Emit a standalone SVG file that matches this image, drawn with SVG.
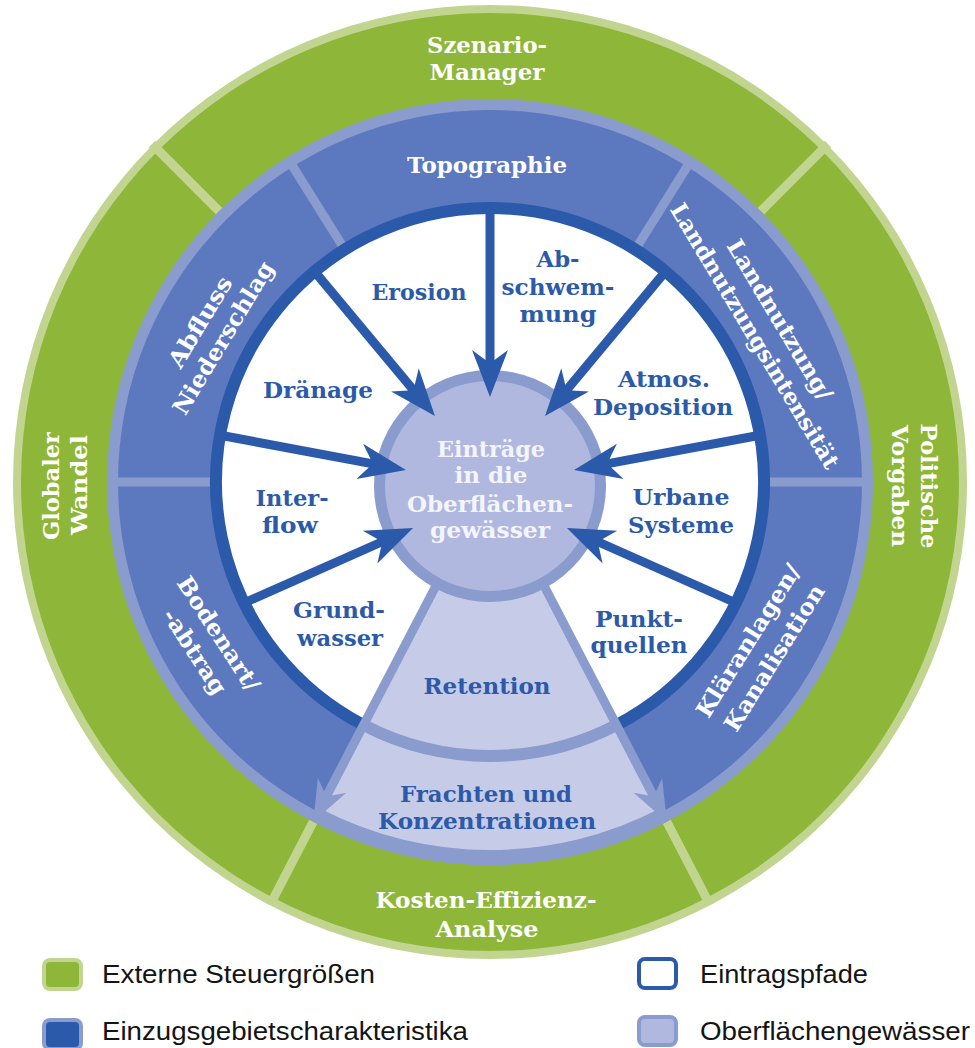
<svg xmlns="http://www.w3.org/2000/svg" width="975" height="1048" viewBox="0 0 975 1048">
<style>
.lb{font-family:"DejaVu Serif","Liberation Serif",serif;font-weight:bold;font-size:23px;text-anchor:middle}
.w{fill:#ffffff}
.d{fill:#2c5aaa}
.c{fill:#f4f5fb}
.lg{font-family:"Liberation Sans",Arial,sans-serif;font-size:26px;fill:#141414}
.gsep{stroke:#c2d590;stroke-width:9}
.bsep{stroke:#8a9bcd;stroke-width:9}
.dark{stroke:#2c5aaa;stroke-width:9;fill:none}
.light{stroke:#8a9bcd;stroke-width:9;fill:none}
</style>
<defs>
<marker id="ahd" markerUnits="userSpaceOnUse" orient="auto" refX="0" refY="0" markerWidth="1" markerHeight="1" overflow="visible">
<path d="M32,0 L-15,-18 L-5,-4.5 L-5,4.5 L-15,18 Z" fill="#2c5aaa"/>
</marker>
<marker id="ahl" markerUnits="userSpaceOnUse" orient="auto" refX="0" refY="0" markerWidth="1" markerHeight="1" overflow="visible">
<path d="M28,0 L-13,-16 L-4,-4.5 L-4,4.5 L-13,16 Z" fill="#8a9bcd"/>
</marker>
</defs>
<rect width="975" height="1048" fill="#ffffff"/>

<g id="outer-ring">
<circle cx="490" cy="482" r="477" fill="#c2d590"/>
<circle cx="490" cy="482" r="469" fill="#8eb739"/>
<line class="gsep" x1="219.2" y1="211.2" x2="152" y2="144"/>
<line class="gsep" x1="760.8" y1="211.2" x2="828" y2="144"/>
<line class="gsep" x1="666.8" y1="821.7" x2="710" y2="905"/>
<line class="gsep" x1="313.2" y1="821.7" x2="270" y2="905"/>
</g>

<g id="blue-ring">
<circle cx="490" cy="482" r="383" fill="#8a9bcd"/>
<circle cx="490" cy="482" r="372" fill="#5c78bf"/>
<line class="bsep" x1="342.7" y1="246.3" x2="289.7" y2="161.5"/>
<line class="bsep" x1="637.3" y1="246.3" x2="690.3" y2="161.5"/>
<line class="bsep" x1="768" y1="482" x2="870" y2="482"/>
<line class="bsep" x1="212" y1="482" x2="110" y2="482"/>
</g>

<g id="oberflaechengewaesser-sector">
<path d="M490,482 L666.8,821.7 A383,383 0 0,1 313.2,821.7 Z" fill="#8a9bcd"/>
<path d="M490,482 L659.9,808.4 A368,368 0 0,1 320.1,808.4 Z" fill="#c6cbe8"/>
<path d="M616.5,725 A274,274 0 0,1 363.5,725" stroke="#8a9bcd" stroke-width="12" fill="none"/>
</g>

<g id="eintragspfade-area">
<path d="M490,482 L363.5,725 A274,274 0 1,1 616.5,725 Z" fill="#ffffff"/>
<path d="M363.5,725 A274,274 0 1,1 616.5,725" stroke="#2c5aaa" stroke-width="12" fill="none"/>
</g>

<g id="szenario-manager">
<text class="lb w" x="487" y="53" textLength="120" lengthAdjust="spacingAndGlyphs">Szenario-</text>
<text class="lb w" x="487" y="80" textLength="115" lengthAdjust="spacingAndGlyphs">Manager</text>
</g>
<g id="politische-vorgaben">
<text class="lb w" transform="translate(921,486) rotate(90)" textLength="125" lengthAdjust="spacingAndGlyphs">Politische</text>
<text class="lb w" transform="translate(892,486) rotate(90)" textLength="122" lengthAdjust="spacingAndGlyphs">Vorgaben</text>
</g>
<g id="kosten-effizienz-analyse">
<text class="lb w" x="486" y="908" textLength="221" lengthAdjust="spacingAndGlyphs">Kosten-Effizienz-</text>
<text class="lb w" x="487" y="937" textLength="103" lengthAdjust="spacingAndGlyphs">Analyse</text>
</g>
<g id="globaler-wandel">
<text class="lb w" transform="translate(59,486) rotate(-90)" textLength="108" lengthAdjust="spacingAndGlyphs">Globaler</text>
<text class="lb w" transform="translate(87,485) rotate(-90)" textLength="100" lengthAdjust="spacingAndGlyphs">Wandel</text>
</g>

<g id="topographie">
<text class="lb w" x="487" y="173" textLength="160" lengthAdjust="spacingAndGlyphs">Topographie</text>
</g>
<g id="landnutzung">
<text class="lb w" transform="translate(773,324) rotate(59)" textLength="183" lengthAdjust="spacingAndGlyphs">Landnutzung/</text>
<text class="lb w" transform="translate(748,340) rotate(59)" textLength="305" lengthAdjust="spacingAndGlyphs">Landnutzungsintensität</text>
</g>
<g id="klaeranlagen-kanalisation">
<text class="lb w" transform="translate(755,645) rotate(-58)" textLength="176" lengthAdjust="spacingAndGlyphs">Kläranlagen/</text>
<text class="lb w" transform="translate(781,662) rotate(-58)" textLength="168" lengthAdjust="spacingAndGlyphs">Kanalisation</text>
</g>
<g id="bodenart-abtrag">
<text class="lb w" transform="translate(212,638) rotate(57)" textLength="132" lengthAdjust="spacingAndGlyphs">Bodenart/</text>
<text class="lb w" transform="translate(188,656) rotate(57)" textLength="97" lengthAdjust="spacingAndGlyphs">-abtrag</text>
</g>
<g id="abfluss-niederschlag">
<text class="lb w" transform="translate(207,326) rotate(-59)" textLength="102" lengthAdjust="spacingAndGlyphs">Abfluss</text>
<text class="lb w" transform="translate(230,342) rotate(-59)" textLength="174" lengthAdjust="spacingAndGlyphs">Niederschlag</text>
</g>

<g id="erosion"><text class="lb d" x="419" y="300" textLength="95" lengthAdjust="spacingAndGlyphs">Erosion</text></g>
<g id="abschwemmung">
<text class="lb d" x="558" y="267" textLength="43" lengthAdjust="spacingAndGlyphs">Ab-</text>
<text class="lb d" x="558" y="295" textLength="113" lengthAdjust="spacingAndGlyphs">schwem-</text>
<text class="lb d" x="558" y="322" textLength="77" lengthAdjust="spacingAndGlyphs">mung</text>
</g>
<g id="atmos-deposition">
<text class="lb d" x="664" y="387" textLength="92" lengthAdjust="spacingAndGlyphs">Atmos.</text>
<text class="lb d" x="663" y="415" textLength="140" lengthAdjust="spacingAndGlyphs">Deposition</text>
</g>
<g id="draenage"><text class="lb d" x="318" y="398" textLength="110" lengthAdjust="spacingAndGlyphs">Dränage</text></g>
<g id="interflow">
<text class="lb d" x="292" y="506" textLength="73" lengthAdjust="spacingAndGlyphs">Inter-</text>
<text class="lb d" x="290" y="533" textLength="56" lengthAdjust="spacingAndGlyphs">flow</text>
</g>
<g id="grundwasser">
<text class="lb d" x="339" y="618" textLength="92" lengthAdjust="spacingAndGlyphs">Grund-</text>
<text class="lb d" x="340" y="646" textLength="86" lengthAdjust="spacingAndGlyphs">wasser</text>
</g>
<g id="urbane-systeme">
<text class="lb d" x="681" y="505" textLength="97" lengthAdjust="spacingAndGlyphs">Urbane</text>
<text class="lb d" x="681" y="533" textLength="106" lengthAdjust="spacingAndGlyphs">Systeme</text>
</g>
<g id="punktquellen">
<text class="lb d" x="639" y="627" textLength="88" lengthAdjust="spacingAndGlyphs">Punkt-</text>
<text class="lb d" x="639" y="653" textLength="97" lengthAdjust="spacingAndGlyphs">quellen</text>
</g>
<g id="retention"><text class="lb d" x="487" y="694" textLength="127" lengthAdjust="spacingAndGlyphs">Retention</text></g>
<g id="frachten-konzentrationen">
<text class="lb d" x="486" y="802" textLength="172" lengthAdjust="spacingAndGlyphs">Frachten und</text>
<text class="lb d" x="487" y="829" textLength="218" lengthAdjust="spacingAndGlyphs">Konzentrationen</text>
</g>

<g id="eintraege-center">
<circle cx="490" cy="486" r="116" fill="#8a9bcd"/>
<circle cx="490" cy="486" r="105" fill="#b0b8df"/>
<text class="lb c" x="491" y="457" textLength="108" lengthAdjust="spacingAndGlyphs">Einträge</text>
<text class="lb c" x="491" y="483" textLength="73" lengthAdjust="spacingAndGlyphs">in die</text>
<text class="lb c" x="490" y="512" textLength="166" lengthAdjust="spacingAndGlyphs">Oberflächen-</text>
<text class="lb c" x="490" y="538" textLength="120" lengthAdjust="spacingAndGlyphs">gewässer</text>
</g>

<g id="connectors">
<line class="light" x1="437.4" y1="583" x2="326.1" y2="796.9" marker-end="url(#ahl)"/>
<line class="light" x1="542.6" y1="583" x2="653.9" y2="796.9" marker-end="url(#ahl)"/>
<line class="dark" x1="490" y1="209" x2="490" y2="365" marker-end="url(#ahd)"/>
<line class="dark" x1="315" y1="272" x2="414.5" y2="391.4" marker-end="url(#ahd)"/>
<line class="dark" x1="665" y1="272" x2="565.5" y2="391.4" marker-end="url(#ahd)"/>
<line class="dark" x1="219" y1="435" x2="374.5" y2="464.1" marker-end="url(#ahd)"/>
<line class="dark" x1="761" y1="435" x2="605.5" y2="464.1" marker-end="url(#ahd)"/>
<line class="dark" x1="244" y1="603" x2="383.8" y2="541" marker-end="url(#ahd)"/>
<line class="dark" x1="736" y1="603" x2="596.2" y2="541" marker-end="url(#ahd)"/>
</g>

<g id="legend">
<rect x="44" y="960" width="37" height="29" rx="6" fill="#8eb739" stroke="#c2d590" stroke-width="4"/>
<text class="lg" x="102" y="983" textLength="273" lengthAdjust="spacingAndGlyphs">Externe Steuergrößen</text>
<rect x="44" y="1020" width="37" height="29" rx="6" fill="#2c5aaa" stroke="#8a9bcd" stroke-width="4"/>
<text class="lg" x="102" y="1040" textLength="366" lengthAdjust="spacingAndGlyphs">Einzugsgebietscharakteristika</text>
<rect x="639" y="959" width="37" height="29" rx="6" fill="#ffffff" stroke="#2c5aaa" stroke-width="4"/>
<text class="lg" x="700" y="983" textLength="168" lengthAdjust="spacingAndGlyphs">Eintragspfade</text>
<rect x="639" y="1017" width="37" height="28" rx="6" fill="#b0b8df" stroke="#8a9bcd" stroke-width="4"/>
<text class="lg" x="700" y="1040" textLength="270" lengthAdjust="spacingAndGlyphs">Oberflächengewässer</text>
</g>
</svg>
